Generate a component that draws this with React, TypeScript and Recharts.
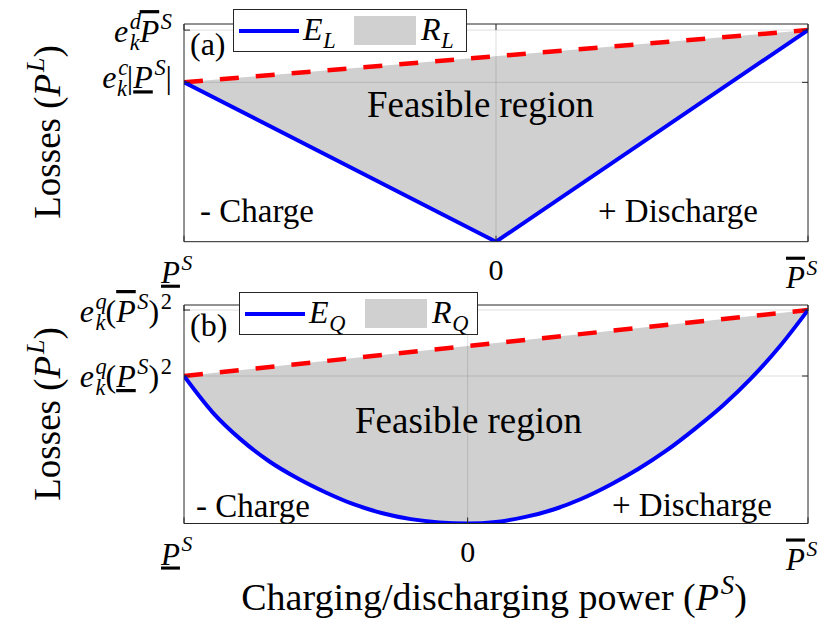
import React from 'react';
import { ComposedChart, Area, Line, XAxis, YAxis, ReferenceLine, Legend } from 'recharts';

// (a) linear loss model
const P_A = [-1, 0, 1];
const E_L = [0.732, 0, 0.972];
const BOUND_A = [0.732, null, 0.972];
const XTICKS_A = [-1, 0, 1];
const YTICKS_A = [0.732, 0.972];

// (b) quadratic loss model
const P_B = [-1, -0.9, -0.8, -0.7, -0.6, -0.5, -0.4, -0.3, -0.2, -0.1, 0, 0.1, 0.2, 0.3, 0.4, 0.5, 0.6, 0.7, 0.8, 0.9, 1, 1.1, 1.2];
const E_Q = [0.675, 0.51, 0.385, 0.285, 0.207, 0.142, 0.087, 0.047, 0.02, 0.005, 0, 0.007, 0.029, 0.063, 0.112, 0.175, 0.248, 0.333, 0.432, 0.54, 0.665, 0.81, 0.977];
const BOUND_B = [0.675, null, null, null, null, null, null, null, null, null, null, null, null, null, null, null, null, null, null, null, null, null, 0.977];
const XTICKS_B = [-1, 0, 1.2];
const YTICKS_B = [0.675, 0.977];

const W = 829;
const PLOT_LEFT = 184;
const PLOT_RIGHT = 808;
const M_TOP = 24;
const FONT = '"Liberation Serif", "Times New Roman", serif';
const AX = '#262626';
const GREY = '#d0d0d0';
const BLUE = '#0000ff';
const RED = '#ff0000';

type Seg = { t: string; i?: boolean; sup?: string; supUp?: boolean; sub?: string; ov?: boolean; un?: boolean };

// poor man's TeX: base + stacked sup/sub, over/underline via text-decoration
function MathText({ x, y, size, segs, anchor = 'start' }: { x: number; y: number; size: number; segs: Seg[]; anchor?: string }) {
  const kids: React.ReactNode[] = [];
  const small = size * 0.7;
  let shift = 0;
  segs.forEach((s, k) => {
    kids.push(
      <tspan key={k + 'b'} dy={-shift} fontStyle={s.i ? 'italic' : 'normal'}
        style={{ textDecoration: s.ov ? 'overline' : s.un ? 'underline' : 'none' }}>{s.t}</tspan>
    );
    shift = 0;
    if (s.sup) {
      const d = -0.42 * size;
      kids.push(<tspan key={k + 'p'} dx={size * 0.05} dy={d - shift} fontSize={small} fontStyle={s.supUp ? 'normal' : 'italic'}>{s.sup}</tspan>);
      shift = d;
    }
    if (s.sub) {
      const d = 0.24 * size;
      const back = s.sup ? -small * 0.5 * s.sup.length : size * 0.02;
      kids.push(<tspan key={k + 's'} dx={back} dy={d - shift} fontSize={small} fontStyle="italic">{s.sub}</tspan>);
      shift = d;
    }
  });
  return (
    <text x={x} y={y} fontSize={size} textAnchor={anchor} fill="#000" fontFamily={FONT}>
      {kids}
    </text>
  );
}

const PS_UNDER: Seg[] = [{ t: 'P', i: true, un: true, sup: 'S' }];
const PS_OVER: Seg[] = [{ t: 'P', i: true, ov: true, sup: 'S' }];

const YLABELS_A: Seg[][] = [
  [{ t: 'e', i: true, sup: 'c', sub: 'k' }, { t: '|' }, { t: 'P', i: true, un: true, sup: 'S' }, { t: '|' }],
  [{ t: 'e', i: true, sup: 'd', sub: 'k' }, { t: 'P', i: true, ov: true, sup: 'S' }],
];
const YLABELS_B: Seg[][] = [
  [{ t: 'e', i: true, sup: 'q', sub: 'k' }, { t: '(' }, { t: 'P', i: true, un: true, sup: 'S' }, { t: ')', sup: '2', supUp: true }],
  [{ t: 'e', i: true, sup: 'q', sub: 'k' }, { t: '(' }, { t: 'P', i: true, ov: true, sup: 'S' }, { t: ')', sup: '2', supUp: true }],
];

function LegendBox({ w, name, sub }: { w: number; name: string; sub: string }) {
  return (
    <div style={{ width: w, height: 43, boxSizing: 'border-box', border: `1px solid ${AX}`, background: '#fff' }}>
      <svg width={w - 2} height={41} style={{ display: 'block', overflow: 'visible' }}>
        <line x1={5} x2={65} y1={21} y2={21} stroke={BLUE} strokeWidth={4} />
        <MathText x={69} y={30} size={32} segs={[{ t: 'E', i: true, sub }]} />
        <rect x={w - 114} y={6} width={62} height={29} fill={GREY} />
        <MathText x={w - 47} y={30} size={32} segs={[{ t: name, i: true, sub }]} />
      </svg>
    </div>
  );
}

function Panel({ top, height, plotH, data, xDomain, xTicks, yTicks, yLabels, curve, legendX, legendY, legendW, sub, tickDy }: any) {
  const plotBottom = M_TOP + plotH;
  const xTick = (props: any) => {
    const { x, index } = props;
    let label;
    if (index === 0) label = <MathText x={x - 23} y={plotBottom + 41} size={31} segs={PS_UNDER} />;
    else if (index === xTicks.length - 1) label = <MathText x={x - 22} y={plotBottom + 46} size={31} segs={PS_OVER} />;
    else label = <text x={x} y={plotBottom + 38} fontSize={30} fontFamily={FONT} textAnchor="middle">0</text>;
    return (
      <g>
        <line x1={x} x2={x} y1={plotBottom} y2={plotBottom - 6} stroke={AX} />
        <line x1={x} x2={x} y1={M_TOP} y2={M_TOP + 6} stroke={AX} />
        {label}
      </g>
    );
  };
  const yTick = (props: any) => {
    const { y, index } = props;
    return (
      <g>
        <line x1={PLOT_LEFT} x2={PLOT_LEFT + 6} y1={y} y2={y} stroke={AX} />
        <line x1={PLOT_RIGHT} x2={PLOT_RIGHT - 6} y1={y} y2={y} stroke={AX} />
        <MathText x={172} y={y + tickDy[index]} size={32} segs={yLabels[index]} anchor="end" />
      </g>
    );
  };
  return (
    <div style={{ position: 'absolute', left: 0, top, width: W, height }}>
      <ComposedChart width={W} height={height} data={data}
        margin={{ top: M_TOP, right: W - PLOT_RIGHT, left: 0, bottom: 0 }}>
        <XAxis type="number" dataKey="p" domain={xDomain} ticks={xTicks} interval={0} allowDataOverflow
          height={height - M_TOP - plotH} axisLine={{ stroke: AX }} tickLine={false} tick={xTick} />
        <YAxis type="number" domain={[0, 1]} ticks={yTicks} interval={0} allowDataOverflow
          width={PLOT_LEFT} axisLine={{ stroke: AX }} tickLine={false} tick={yTick} />
        <Area dataKey="bound" type="linear" connectNulls fill={GREY} fillOpacity={1} stroke="none" isAnimationActive={false} />
        <Area dataKey="e" type={curve} fill="#ffffff" fillOpacity={1} stroke="none" isAnimationActive={false} />
        <ReferenceLine x={0} stroke={AX} strokeOpacity={0.15} zIndex={150} />
        {yTicks.map((v: number) => (
          <ReferenceLine key={v} y={v} stroke={AX} strokeOpacity={0.15} zIndex={150} />
        ))}
        <Line dataKey="bound" type="linear" connectNulls stroke={RED} strokeWidth={4.5} strokeDasharray="19 17" dot={false} isAnimationActive={false} />
        <Line dataKey="e" type={curve} stroke={BLUE} strokeWidth={4} dot={false} isAnimationActive={false} />
        <ReferenceLine x={xDomain[1]} stroke={AX} />
        <ReferenceLine y={1} stroke={AX} />
        <Legend layout="horizontal" verticalAlign="middle" align="center"
          wrapperStyle={{ left: legendX, top: legendY - top, width: legendW, height: 43 }}
          content={() => <LegendBox w={legendW} name="R" sub={sub} />} />
      </ComposedChart>
    </div>
  );
}

const dataA = P_A.map((p, i) => ({ p, e: E_L[i], bound: BOUND_A[i] }));
const dataB = P_B.map((p, i) => ({ p, e: E_Q[i], bound: BOUND_B[i] }));

export default function App() {
  return (
    <div style={{ position: 'absolute', left: 0, top: 0, width: W, height: 630, background: '#fff', overflow: 'hidden' }}>
      <Panel top={0} height={300} plotH={217.7} data={dataA} xDomain={[-1, 1]} xTicks={XTICKS_A} yTicks={YTICKS_A}
        yLabels={YLABELS_A} tickDy={[6, 12]} curve="linear" legendX={233} legendY={9} legendW={234} sub="L" />
      <Panel top={281} height={349} plotH={218.5} data={dataB} xDomain={[-1, 1.2]} xTicks={XTICKS_B} yTicks={YTICKS_B}
        yLabels={YLABELS_B} tickDy={[11, 12]} curve="monotone" legendX={239} legendY={292} legendW={239} sub="Q" />
      <svg width={W} height={630} style={{ position: 'absolute', left: 0, top: 0, pointerEvents: 'none' }}>
        <text x={190} y={55} fontSize={32} fontFamily={FONT}>(a)</text>
        <text x={190} y={336} fontSize={32} fontFamily={FONT}>(b)</text>
        <text x={367} y={117} fontSize={37} fontFamily={FONT}>Feasible region</text>
        <text x={355} y={433} fontSize={37} fontFamily={FONT}>Feasible region</text>
        <text x={200} y={222} fontSize={33} fontFamily={FONT}>- Charge</text>
        <text x={196} y={517} fontSize={33} fontFamily={FONT}>- Charge</text>
        <text x={758} y={222} fontSize={33} fontFamily={FONT} textAnchor="end">+ Discharge</text>
        <text x={772} y={516} fontSize={33} fontFamily={FONT} textAnchor="end">+ Discharge</text>
        <g transform="translate(60,132) rotate(-90)">
          <MathText x={0} y={0} size={37} anchor="middle" segs={[{ t: 'Losses (' }, { t: 'P', i: true, sup: 'L' }, { t: ')' }]} />
        </g>
        <g transform="translate(60,414) rotate(-90)">
          <MathText x={0} y={0} size={37} anchor="middle" segs={[{ t: 'Losses (' }, { t: 'P', i: true, sup: 'L' }, { t: ')' }]} />
        </g>
        <MathText x={494} y={610} size={38} anchor="middle"
          segs={[{ t: 'Charging/discharging power (' }, { t: 'P', i: true, sup: 'S' }, { t: ')' }]} />
      </svg>
    </div>
  );
}
